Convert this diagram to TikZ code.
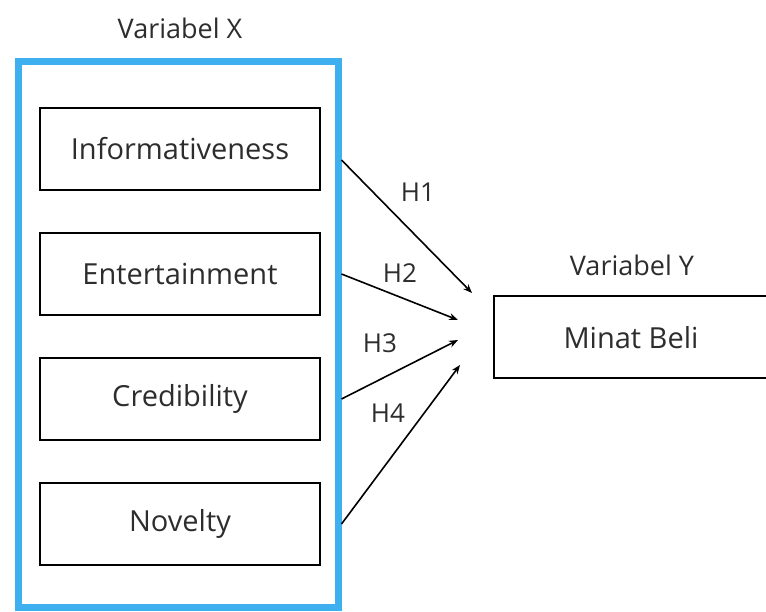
\documentclass[tikz,border=0pt]{standalone}
\usepackage{fontspec}
\setmainfont{Open Sans}
\usetikzlibrary{arrows.meta,positioning}
\definecolor{framblue}{RGB}{62,176,240}
\definecolor{inkgray}{RGB}{45,45,45}

\begin{document}
\begin{tikzpicture}[x=1pt,y=-1pt,node distance=41pt,
  var box/.style={draw=black,line width=2pt,minimum width=280pt,minimum height=82pt,
    inner sep=0pt,font=\fontsize{29}{34}\selectfont,text=inkgray},
  frame box/.style={draw=framblue,line width=7pt,minimum width=320pt,minimum height=545pt},
  title/.style={font=\fontsize{27}{32}\selectfont,text=inkgray},
  hyp/.style={-{Stealth[length=9pt,width=7pt]},line width=1.6pt},
  hlabel/.style={font=\fontsize{26}{30}\selectfont,text=inkgray}]

  \useasboundingbox (0,0) rectangle (766,612);

  \node[frame box] (varx) at (178,334.5) {};
  \node[title] (xtitle) at (180,28) {Variabel X};

  \node[var box] (info) at (180,149) {Informativeness};
  \node[var box] (ent) [below=of info] {Entertainment};
  \node[var box] (cred) [below=of ent] {Credibility};
  \node[var box] (nov) [below=of cred] {Novelty};

  \node[var box,anchor=west] (minat) at (493,337.5) {\hspace*{-6pt}Minat Beli};
  \node[title] (ytitle) at (632,265) {Variabel Y};

  % arrow ends
  \coordinate (t1) at (472,293);
  \coordinate (t2) at (458,320);
  \coordinate (t3) at (458,340);
  \coordinate (t4) at (460,365);

  \draw[hyp] ([yshift=-11pt]info.east -| varx.east) -- (t1);
  \draw[hyp] (ent.east -| varx.east) -- (t2);
  \draw[hyp] (cred.east -| varx.east) -- (t3);
  \draw[hyp] (nov.east -| varx.east) -- (t4);

  \node[hlabel] (h1) at (418,192) {H1};
  \node[hlabel] (h2) at (400,273) {H2};
  \node[hlabel] (h3) at (380,343) {H3};
  \node[hlabel] (h4) at (388,413) {H4};
\end{tikzpicture}
\end{document}
